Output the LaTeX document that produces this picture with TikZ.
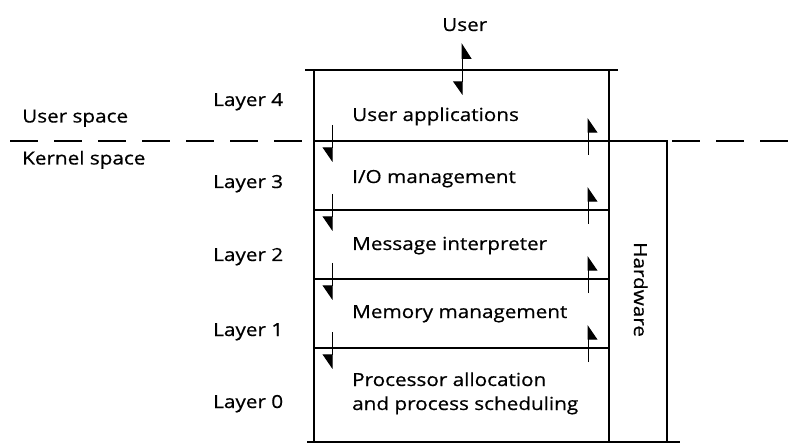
\documentclass[tikz,border=0pt]{standalone}
\usepackage{fontspec}
\setmainfont[FakeStretch=1.15,FakeBold=0.6]{Open Sans}
\usetikzlibrary{arrows.meta,calc}
\begin{document}
\begin{tikzpicture}[x=1pt,y=-1pt,
  box/.style={draw,line width=1.3pt,inner sep=0pt,outer sep=0pt,minimum width=295pt},
  lbl/.style={anchor=base west,inner sep=0pt,font=\fontsize{18}{22}\selectfont},
  arr/.style={line width=1pt},
  tipA/.tip={Triangle[harpoon,swap,length=14pt,width=19pt]},
  hup/.style={arr,-tipA},
  hdn/.style={arr,-tipA},
  dashline/.style={line width=1.2pt,dash pattern=on 28pt off 16pt}]
\useasboundingbox (0,0) rectangle (800,446);
% layer boxes
\node[box,minimum height=71pt] (L4) at (461.5,105.5) {};
\node[box,minimum height=69pt] (L3) at (461.5,175.5) {};
\node[box,minimum height=69pt] (L2) at (461.5,244.5) {};
\node[box,minimum height=69pt] (L1) at (461.5,313.5) {};
\node[box,minimum height=94pt] (L0) at (461.5,395) {};
\node[draw,line width=1.3pt,inner sep=0pt,outer sep=0pt,minimum width=58pt,minimum height=301pt] (HW) at (638,291.5) {};
% overhangs
\draw[line width=1.3pt] ($(L4.north west)+(-9,0)$) -- ($(L4.north east)+(9,0)$);
\draw[line width=1.3pt] ($(L0.south west)+(-7,0)$) -- ($(HW.south east)+(13,0)$);
% dashed separator
\draw[dashline] (10,141) -- ($(L4.south west)+(-9,0)$);
\draw[dashline] ($(HW.north east)+(5,0)$) -- (800,141);
% texts
\node[lbl] (user) at (442,31) {User};
\node[lbl] (us) at (22,122.5) {User space};
\node[lbl] (ks) at (22,164.5) {Kernel space};
\node[lbl] (n4) at (213,106) {Layer 4};
\node[lbl] (n3) at (213,188) {Layer 3};
\node[lbl] (n2) at (213,261) {Layer 2};
\node[lbl] (n1) at (213,336) {Layer 1};
\node[lbl] (n0) at (213,408) {Layer 0};
\node[lbl] (t4) at (352,121) {User applications};
\node[lbl] (t3) at (352,183) {I/O management};
\node[lbl] (t2) at (352,250) {Message interpreter};
\node[lbl] (t1) at (352,318) {Memory management};
\node[lbl] (t0a) at (352,386) {Processor allocation};
\node[lbl] (t0b) at (352,410) {and process scheduling};
\node[lbl,rotate=-90] (hwt) at (634,242) {Hardware};
% user arrow
\draw[arr,{Triangle[harpoon,swap,length=13pt,width=18pt]}-{Triangle[harpoon,swap,length=15pt,width=19pt]}]
  ($(L4.north)+(0.5,25)$) -- ($(L4.north)+(0.5,-27)$);
% interface arrows
\foreach \b in {L4,L3,L2,L1}{
  \draw[hdn] ($(\b.south west)+(18,-16)$) -- ($(\b.south west)+(18,21)$);
  \draw[hup] ($(\b.south east)+(-21,14)$) -- ($(\b.south east)+(-21,-23)$);
}
\end{tikzpicture}
\end{document}
